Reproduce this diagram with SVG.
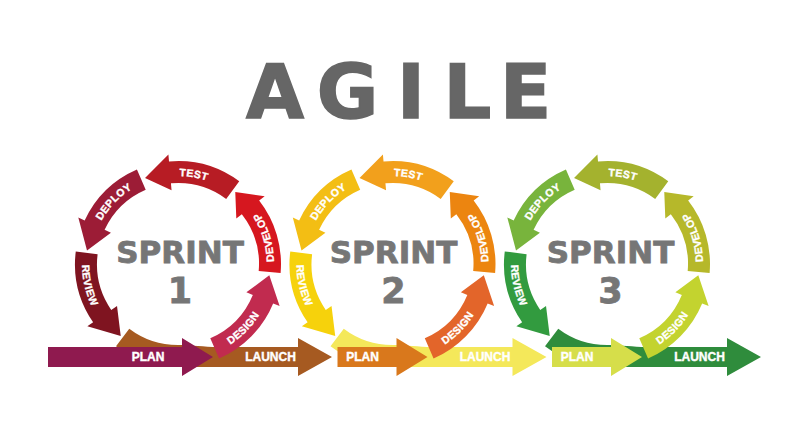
<svg xmlns="http://www.w3.org/2000/svg" width="800" height="439" viewBox="0 0 800 439">
<style>
.lbl{font-family:"Liberation Sans",Arial,sans-serif;font-weight:bold;font-size:10.5px;fill:#fff;stroke:#fff;stroke-width:0.35;text-anchor:middle;letter-spacing:0.3px}
.bar{font-family:"Liberation Sans",Arial,sans-serif;font-weight:bold;font-size:12px;fill:#fff;stroke:#fff;stroke-width:0.4;text-anchor:middle}
.spr{font-family:"DejaVu Sans",sans-serif;font-weight:bold;fill:#767676;stroke:#767676;stroke-width:0.8;text-anchor:middle}
.num{font-family:"DejaVu Sans",sans-serif;font-weight:bold;fill:#767676;stroke:#767676;stroke-width:0.8;text-anchor:middle;font-size:35px}
.title{font-family:"DejaVu Sans",sans-serif;font-weight:bold;font-size:75px;fill:#666;stroke:#666;stroke-width:1.5;text-anchor:middle}
</style>
<defs>
<path id="a-design" d="M41.07,94.46 A103,103 0 0 0 95.16,39.42 L101.63,42.10 L91.31,11.21 L68.37,28.32 L74.84,31.00 A81,81 0 0 1 32.29,74.29 Z"/>
<path id="a-develop" d="M102.61,8.98 A103,103 0 0 0 81.16,-63.42 L86.68,-67.73 L57.27,-72.00 L58.31,-45.56 L63.83,-49.87 A81,81 0 0 1 80.69,7.06 Z"/>
<path id="a-test" d="M61.26,-82.80 A103,103 0 0 0 -8.98,-102.61 L-9.59,-109.58 L-32.97,-85.89 L-6.45,-73.72 L-7.06,-80.69 A81,81 0 0 1 48.18,-65.12 Z"/>
<path id="a-deploy" d="M-41.07,-94.46 A103,103 0 0 0 -93.35,-43.53 L-99.69,-46.49 L-90.99,-13.60 L-67.07,-31.27 L-73.41,-34.23 A81,81 0 0 1 -32.29,-74.29 Z"/>
<path id="a-review" d="M-102.23,-12.56 A103,103 0 0 0 -84.88,58.34 L-90.65,62.30 L-57.27,72.00 L-60.98,41.91 L-66.75,45.88 A81,81 0 0 1 -80.40,-9.87 Z"/>
<path id="a-launch" d="M-61.99,82.26 L-48.75,64.69 A81,81 0 0 0 0,81 C15,81 25,83 40,83 L120,83 L120,74 L154,93 L120,112 L120,103 L0,103 A103,103 0 0 1 -61.99,82.26 Z"/>
<path id="a-plan-long" d="M-130,83 L4,83 L4,74 L35,93 L4,112 L4,103 L-130,103 Z"/>
<path id="a-plan" d="M-55,83 L4,83 L4,74 L35,93 L4,112 L4,103 L-55,103 Z"/>
<path id="t-test" d="M-44,-76.21 A88,88 0 0 1 67.41,-56.56" fill="none"/>
<path id="t-deploy" d="M-87.79,-6.14 A88,88 0 0 1 -9.20,-87.52" fill="none"/>
<path id="t-develop" d="M88.37,37.51 A96,96 0 0 0 52.28,-80.52" fill="none"/>
<path id="t-design" d="M9.20,95.56 A96,96 0 0 0 95.70,7.53" fill="none"/>
<path id="t-review" d="M-85.91,-42.84 A96,96 0 0 0 -57.10,77.17" fill="none"/>
</defs>
<rect width="800" height="439" fill="#fff"/>
<text id="title" class="title" x="275 347.5 411 467.5 525.5" y="118">AGILE</text>

<g id="sprint1" transform="translate(178,264)">
  <g id="s1-launch"><use href="#a-launch" fill="#A65A21"/><text class="bar" x="92.5" y="97.3">LAUNCH</text></g>
  <g id="s1-plan"><use href="#a-plan-long" fill="#8F1A4F"/><text class="bar" x="-30" y="97.3">PLAN</text></g>
  <g id="s1-design"><use href="#a-design" fill="#C12B4F"/><text class="lbl"><textPath href="#t-design" startOffset="50%">DESIGN</textPath></text></g>
  <g id="s1-develop"><use href="#a-develop" fill="#D6171F"/><text class="lbl"><textPath href="#t-develop" startOffset="50%">DEVELOP</textPath></text></g>
  <g id="s1-test"><use href="#a-test" fill="#B71C24"/><text class="lbl"><textPath href="#t-test" startOffset="50%">TEST</textPath></text></g>
  <g id="s1-deploy"><use href="#a-deploy" fill="#9C1C36"/><text class="lbl"><textPath href="#t-deploy" startOffset="50%">DEPLOY</textPath></text></g>
  <g id="s1-review"><use href="#a-review" fill="#7F1420"/><text class="lbl"><textPath href="#t-review" startOffset="50%">REVIEW</textPath></text></g>
  <g id="s1-title"><text class="spr" x="2" y="-1" font-size="31">SPRINT</text><text class="num" x="2" y="39">1</text></g>
</g>

<g id="sprint2" transform="translate(392.5,264)">
  <g id="s2-launch"><use href="#a-launch" fill="#F4E85A"/><text class="bar" x="92.5" y="97.3">LAUNCH</text></g>
  <g id="s2-plan"><use href="#a-plan" fill="#D9781C"/><text class="bar" x="-30" y="97.3">PLAN</text></g>
  <g id="s2-design"><use href="#a-design" fill="#E3652A"/><text class="lbl"><textPath href="#t-design" startOffset="50%">DESIGN</textPath></text></g>
  <g id="s2-develop"><use href="#a-develop" fill="#EC8510"/><text class="lbl"><textPath href="#t-develop" startOffset="50%">DEVELOP</textPath></text></g>
  <g id="s2-test"><use href="#a-test" fill="#F2A01C"/><text class="lbl"><textPath href="#t-test" startOffset="50%">TEST</textPath></text></g>
  <g id="s2-deploy"><use href="#a-deploy" fill="#F3BE14"/><text class="lbl"><textPath href="#t-deploy" startOffset="50%">DEPLOY</textPath></text></g>
  <g id="s2-review"><use href="#a-review" fill="#F6D20C"/><text class="lbl"><textPath href="#t-review" startOffset="50%">REVIEW</textPath></text></g>
  <g id="s2-title"><text class="spr" x="1" y="-1" font-size="31">SPRINT</text><text class="num" x="1" y="39">2</text></g>
</g>

<g id="sprint3" transform="translate(607,264)">
  <g id="s3-launch"><use href="#a-launch" fill="#2F8C3C"/><text class="bar" x="92.5" y="97.3">LAUNCH</text></g>
  <g id="s3-plan"><use href="#a-plan" fill="#D6DE4A"/><text class="bar" x="-30" y="97.3">PLAN</text></g>
  <g id="s3-design"><use href="#a-design" fill="#C3D32F"/><text class="lbl"><textPath href="#t-design" startOffset="50%">DESIGN</textPath></text></g>
  <g id="s3-develop"><use href="#a-develop" fill="#B6B82A"/><text class="lbl"><textPath href="#t-develop" startOffset="50%">DEVELOP</textPath></text></g>
  <g id="s3-test"><use href="#a-test" fill="#A4B22E"/><text class="lbl"><textPath href="#t-test" startOffset="50%">TEST</textPath></text></g>
  <g id="s3-deploy"><use href="#a-deploy" fill="#78B43C"/><text class="lbl"><textPath href="#t-deploy" startOffset="50%">DEPLOY</textPath></text></g>
  <g id="s3-review"><use href="#a-review" fill="#329B3F"/><text class="lbl"><textPath href="#t-review" startOffset="50%">REVIEW</textPath></text></g>
  <g id="s3-title"><text class="spr" x="3.5" y="-1" font-size="31">SPRINT</text><text class="num" x="3.5" y="39">3</text></g>
</g>
</svg>
